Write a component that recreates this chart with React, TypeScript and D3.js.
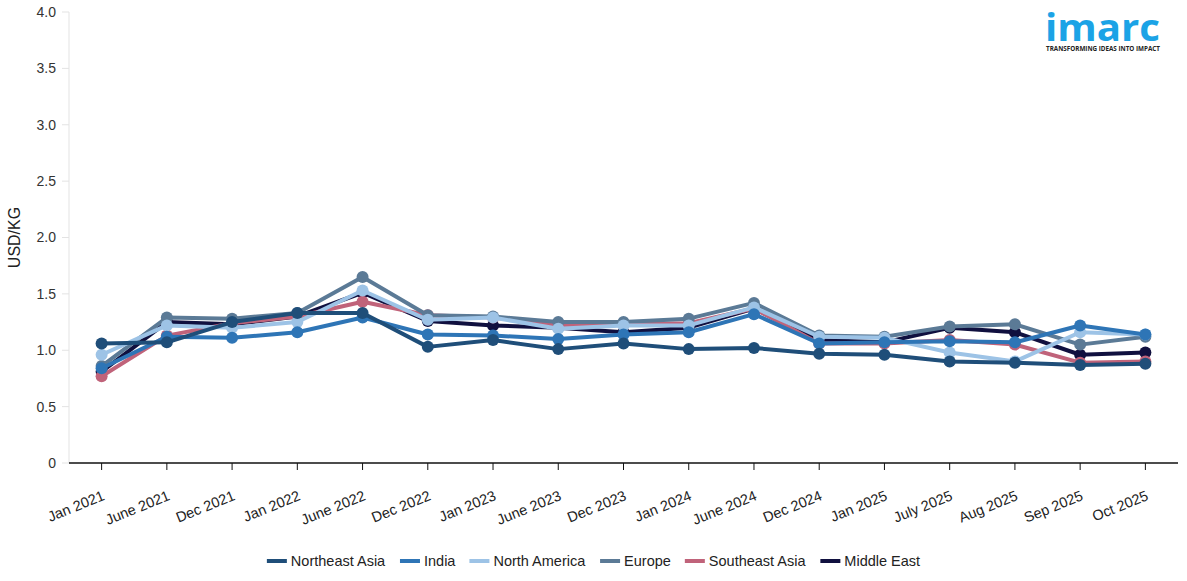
import React from "react";
import * as d3 from "d3";

const categories = [
  "Jan 2021", "June 2021", "Dec 2021", "Jan 2022", "June 2022", "Dec 2022",
  "Jan 2023", "June 2023", "Dec 2023", "Jan 2024", "June 2024", "Dec 2024",
  "Jan 2025", "July 2025", "Aug 2025", "Sep 2025", "Oct 2025",
];

const northeastAsia = [1.06, 1.07, 1.25, 1.33, 1.33, 1.03, 1.09, 1.01, 1.06, 1.01, 1.02, 0.97, 0.96, 0.9, 0.89, 0.87, 0.88];
const india = [0.84, 1.12, 1.11, 1.16, 1.29, 1.14, 1.13, 1.1, 1.14, 1.16, 1.32, 1.06, 1.07, 1.08, 1.07, 1.22, 1.14];
const northAmerica = [0.96, 1.22, 1.2, 1.25, 1.53, 1.27, 1.29, 1.19, 1.22, 1.22, 1.38, 1.12, 1.11, 0.98, 0.9, 1.16, 1.14];
const europe = [0.86, 1.29, 1.28, 1.33, 1.65, 1.31, 1.3, 1.25, 1.25, 1.28, 1.42, 1.13, 1.12, 1.21, 1.23, 1.05, 1.12];
const southeastAsia = [0.77, 1.13, 1.24, 1.3, 1.43, 1.31, 1.29, 1.22, 1.23, 1.24, 1.37, 1.06, 1.06, 1.09, 1.05, 0.89, 0.9];
const middleEast = [0.81, 1.25, 1.23, 1.3, 1.51, 1.26, 1.22, 1.2, 1.16, 1.2, 1.37, 1.09, 1.07, 1.2, 1.16, 0.96, 0.98];

const seriesNames = ["Northeast Asia", "India", "North America", "Europe", "Southeast Asia", "Middle East"];
const seriesValues = [northeastAsia, india, northAmerica, europe, southeastAsia, middleEast];
const seriesColors = ["#1f4e79", "#2e75b6", "#9dc3e6", "#5b7a96", "#c0637a", "#10103f"];

const yTicks = [0, 0.5, 1.0, 1.5, 2.0, 2.5, 3.0, 3.5, 4.0];

const W = 1187;
const H = 581;
const FONT = "'Liberation Sans', Arial, sans-serif";

function measure(text: string, size: number): number {
  const c = document.createElement("canvas");
  const ctx = c.getContext("2d");
  if (!ctx) return text.length * size * 0.5;
  ctx.font = `${size}px ${FONT}`;
  return ctx.measureText(text).width;
}

export default function App() {
  const x = d3.scaleBand<string>().domain(categories).range([69, 1178]);
  const y = d3.scaleLinear().domain([0, 4]).range([463, 12]);
  const cx = (c: string) => (x(c) ?? 0) + x.bandwidth() / 2;

  const line = d3
    .line<number>()
    .x((_, i) => cx(categories[i]))
    .y((d) => y(d));

  // legend layout
  const legendFont = 14.5;
  const swatchW = 20;
  const gapSwatchText = 4;
  const itemGap = 14;
  const widths = seriesNames.map((n) => swatchW + gapSwatchText + measure(n, legendFont));
  const total = widths.reduce((a, b) => a + b, 0) + itemGap * (seriesNames.length - 1);
  let lx = W / 2 - total / 2;
  const legendItems = seriesNames.map((n, i) => {
    const item = { name: n, color: seriesColors[i], x: lx };
    lx += widths[i] + itemGap;
    return item;
  });

  const order = seriesNames.map((_, i) => i).reverse();

  return (
    <svg width={W} height={H} style={{ position: "absolute", left: 0, top: 0, background: "#fff" }} fontFamily={FONT}>
      {/* y axis */}
      <line x1={69} x2={69} y1={12} y2={463} stroke="#e3e3e3" strokeWidth={1} />
      {yTicks.map((t) => (
        <g key={t} transform={`translate(0,${y(t)})`}>
          <line x1={62} x2={69} stroke="#e3e3e3" />
          <text x={56} dy="0.35em" textAnchor="end" fontSize={14} fill="#333">
            {t === 0 ? "0" : d3.format(".1f")(t)}
          </text>
        </g>
      ))}
      <text
        transform={`translate(20,${y(2)}) rotate(-90)`}
        textAnchor="middle"
        fontSize={16}
        fill="#222"
      >
        USD/KG
      </text>

      {/* x axis */}
      <line x1={69} x2={1178} y1={463} y2={463} stroke="#111" strokeWidth={1.5} />
      {categories.map((c) => (
        <g key={c} transform={`translate(${cx(c)},463)`}>
          <line y1={0} y2={7} stroke="#111" strokeWidth={1} />
          <text
            transform="translate(0,27) rotate(-22)"
            textAnchor="end"
            dy="0.71em"
            fontSize={14.5}
            fill="#222"
          >
            {c}
          </text>
        </g>
      ))}

      {/* series */}
      {order.map((i) => (
        <g key={seriesNames[i]}>
          <path d={line(seriesValues[i]) ?? ""} fill="none" stroke={seriesColors[i]} strokeWidth={4} strokeLinejoin="round" />
          {seriesValues[i].map((v, j) => (
            <circle key={j} cx={cx(categories[j])} cy={y(v)} r={6} fill={seriesColors[i]} />
          ))}
        </g>
      ))}

      {/* legend */}
      {legendItems.map((it) => (
        <g key={it.name} transform={`translate(${it.x},561)`}>
          <rect x={0} y={-2} width={swatchW} height={4} fill={it.color} />
          <text x={swatchW + gapSwatchText} dy="0.35em" fontSize={legendFont} fill="#222">
            {it.name}
          </text>
        </g>
      ))}

      {/* logo */}
      <g>
        <text x={1045} y={41} fontSize={38} fontWeight={700} fill="#1ba3e6" fontFamily="'Open Sans', 'Noto Sans', sans-serif" textLength={115} lengthAdjust="spacingAndGlyphs">
          imarc
        </text>
        <text x={1046} y={51} fontSize={6.4} fontWeight={700} fill="#222" fontFamily="'Open Sans', 'Noto Sans', sans-serif" textLength={114} lengthAdjust="spacingAndGlyphs">
          TRANSFORMING IDEAS INTO IMPACT
        </text>
      </g>
    </svg>
  );
}
